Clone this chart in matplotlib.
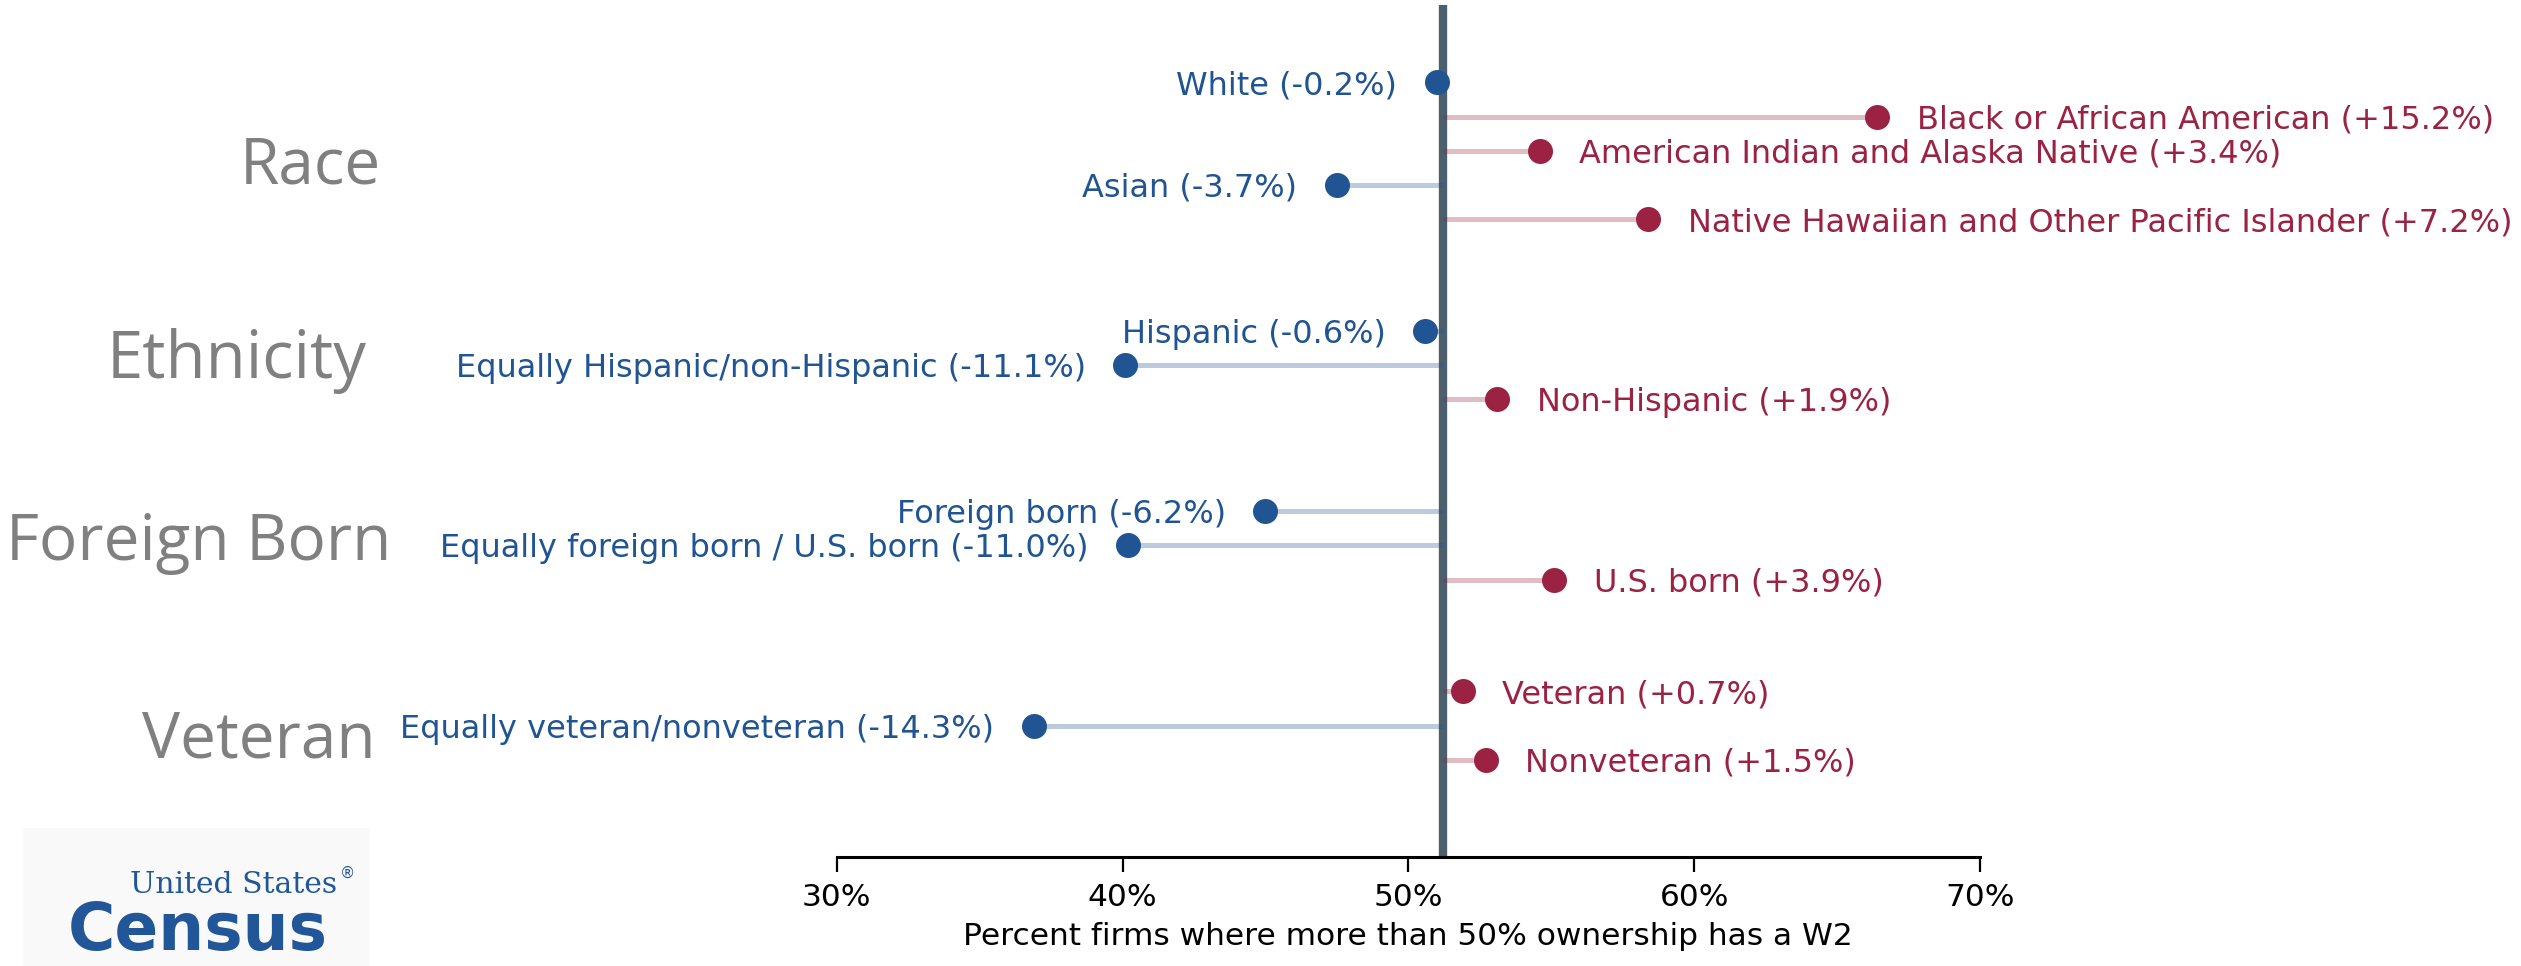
import matplotlib
matplotlib.use("Agg")
import matplotlib.pyplot as plt
from matplotlib.patches import Rectangle

# ---------------- data ----------------
groups = ["Race", "Ethnicity", "Foreign Born", "Veteran"]
race_labels = ["White (-0.2%)", "Black or African American (+15.2%)",
               "American Indian and Alaska Native (+3.4%)", "Asian (-3.7%)",
               "Native Hawaiian and Other Pacific Islander (+7.2%)"]
race_values = [51.0, 66.4, 54.6, 47.5, 58.4]
eth_labels = ["Hispanic (-0.6%)", "Equally Hispanic/non-Hispanic (-11.1%)",
              "Non-Hispanic (+1.9%)"]
eth_values = [50.6, 40.1, 53.1]
fb_labels = ["Foreign born (-6.2%)", "Equally foreign born / U.S. born (-11.0%)",
             "U.S. born (+3.9%)"]
fb_values = [45.0, 40.2, 55.1]
vet_labels = ["Veteran (+0.7%)", "Equally veteran/nonveteran (-14.3%)",
              "Nonveteran (+1.5%)"]
vet_values = [51.9, 36.9, 52.7]
baseline = 51.2
xticks = [30, 40, 50, 60, 70]
xlabel = "Percent firms where more than 50% ownership has a W2"

# ---------------- style ----------------
BLUE = "#205493"
RED = "#9b2242"
BASE = "#4b5f6c"
GREY = "#808080"
W, H = 2521, 966
FS = 23

fig = plt.figure(figsize=(W / 100, H / 100), dpi=100)
ax = fig.add_axes([836.7 / W, 1 - 857 / H, (1980 - 836.7) / W, (857 - 5) / H])

all_labels = [race_labels, eth_labels, fb_labels, vet_labels]
all_values = [race_values, eth_values, fb_values, vet_values]
GAP = 2.27

ax.axvline(baseline, color=BASE, lw=6.0, zorder=2)

y = 0.0
for gi, (labs, vals) in enumerate(zip(all_labels, all_values)):
    if gi > 0:
        y += GAP
    for lab, v in zip(labs, vals):
        col = RED if v > baseline else BLUE
        ax.plot([baseline, v], [y, y], color=col, alpha=0.3, lw=3.6,
                solid_capstyle="butt", zorder=3)
        ax.plot([v], [y], "o", color=col, ms=18, mec="none", zorder=4)
        if v > baseline:
            ax.annotate(lab, (v, y), xytext=(28.5, 0), textcoords="offset points",
                        ha="left", va="center_baseline", color=col, fontsize=FS)
        else:
            ax.annotate(lab, (v, y), xytext=(-28.5, 0), textcoords="offset points",
                        ha="right", va="center_baseline", color=col, fontsize=FS)
        y += 1.0

ax.set_xlim(30, 70)
ax.set_ylim(22.65, -2.26)
ax.set_xticks(xticks)
ax.set_xticklabels([f"{t}%" for t in xticks], fontsize=22.5)
ax.set_yticks([])
for s in ["top", "right", "left"]:
    ax.spines[s].set_visible(False)
ax.spines["bottom"].set_linewidth(2.2)
ax.tick_params(axis="x", length=11, width=1.6, pad=8)
ax.set_xlabel(xlabel, fontsize=22.5, labelpad=7)

# group labels (right aligned, baseline)
group_pos = [(381, 183), (367, 378), (391, 560), (376, 757)]
group_fs = [46, 47, 46, 46]
for g, (gx, gy), gfs in zip(groups, group_pos, group_fs):
    fig.text(gx / W, 1 - gy / H, g, ha="right", va="baseline",
             fontsize=gfs, color=GREY, family=["Open Sans", "DejaVu Sans"])

# logo
fig.patches.append(Rectangle((23 / W, 0), (370 - 23) / W, (966 - 828) / H,
                             transform=fig.transFigure, facecolor="#f9f9f9",
                             edgecolor="none", zorder=0))
LOGO = "#215799"
us = fig.text(130 / W, 1 - 893 / H, "United States", ha="left", va="baseline",
              fontsize=21.5, color=LOGO, family="DejaVu Serif")
fig.canvas.draw()
bb = us.get_window_extent()
fig.text((bb.x1 + 3) / W, 1 - 878 / H, "®", ha="left", va="baseline",
         fontsize=11, color=LOGO, family="DejaVu Sans")
fig.text(68 / W, 1 - 950 / H, "Census", ha="left", va="baseline",
         fontsize=46.5, color=LOGO, family="DejaVu Sans", weight="bold")

fig.savefig("out.png", dpi=100)
